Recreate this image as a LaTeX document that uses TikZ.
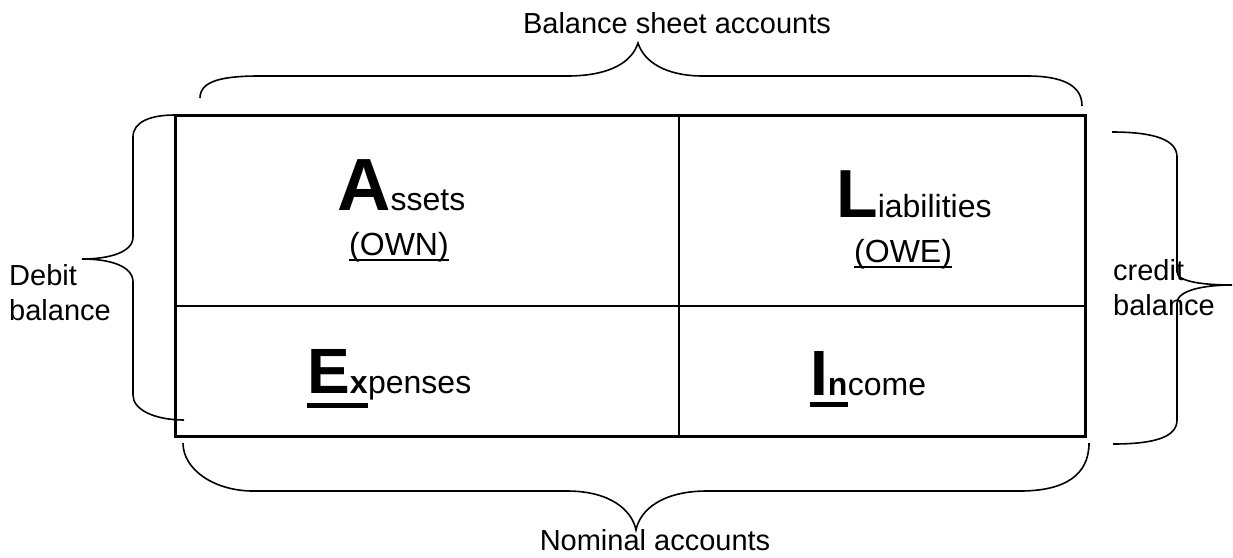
\documentclass[tikz,border=0pt]{standalone}
\usepackage{fontspec}
\setmainfont{Liberation Sans}
\usetikzlibrary{positioning}

\tikzset{
  lbl/.style={inner sep=0pt, font=\fontsize{29}{35}\selectfont},
  cell/.style={inner sep=0pt, font=\fontsize{32}{38}\selectfont},
  brace/.style={line width=1.6pt},
}
\newcommand{\bigletter}[2]{{\fontsize{#1}{#1}\selectfont\bfseries #2}}

\begin{document}
\begin{tikzpicture}[x=1pt,y=-1pt]
  \useasboundingbox (0,0) rectangle (1233,557);
  % the four accounts
  \draw[line width=2pt] (679,115) -- (679,436);
  \draw[line width=2pt] (175,306) -- (1085,306);
  \draw[line width=3pt] (175,115) rectangle (1085,436);

  \node[cell, anchor=base west] (assets) at (337,210) {\bigletter{74}{A}ssets};
  \node[cell, anchor=base west] (own) at (349,255) {(OWN)};
  \node[cell, anchor=base west] (liab) at (836,217) {\bigletter{68}{L}iabilities};
  \node[cell, anchor=base west] (owe) at (854,262) {(OWE)};
  \node[cell, anchor=base west] (expE) at (307,393) {\bigletter{64}{E}\textbf{x}};
  \node[cell, anchor=base west] (exp) at (expE.base east) {penses};
  \node[cell, anchor=base west] (incI) at (810,395) {\bigletter{64}{I}\textbf{n}};
  \node[cell, anchor=base west] (inc) at (incI.base east) {come};

  \draw[line width=2pt] ([yshift=-5pt]own.base west) -- ([yshift=-5pt]own.base east);
  \draw[line width=2pt] ([yshift=-5pt]owe.base west) -- ([yshift=-5pt]owe.base east);
  \draw[line width=5pt] ([yshift=-12pt]expE.base west) -- ([yshift=-12pt]expE.base east);
  \draw[line width=5pt] ([yshift=-9pt]incI.base west) -- ([yshift=-9pt]incI.base east);

  % labels
  \node[lbl, anchor=base] (bsa) at (677,33) {Balance sheet accounts};
  \node[lbl, anchor=base] (nom) at (655,550) {Nominal accounts};
  \node[lbl, anchor=north west, align=left] (debit) at (9,264) {Debit\\balance};
  \node[lbl, anchor=north west, align=left] (credit) at (1113,259) {credit\\balance};

  % braces
  \draw[brace] (200,98) .. controls (200,80) and (225,76) .. (260,76) -- (567,76)
    .. controls (610,76) and (632,62) .. (638,43)
    .. controls (644,62) and (666,76) .. (703,76) -- (1027,76)
    .. controls (1062,76) and (1082,85) .. (1082,106);
  \draw[brace] (183,443) .. controls (183,470) and (215,491) .. (253,491) -- (567,491)
    .. controls (610,491) and (632,510) .. (636,530)
    .. controls (640,510) and (662,491) .. (707,491) -- (1020,491)
    .. controls (1065,491) and (1089,475) .. (1089,443);
  \draw[brace] (175,115) .. controls (150,115) and (133,122) .. (133,137) -- (133,237)
    .. controls (133,252) and (110,259) .. (82,259)
    .. controls (110,259) and (133,266) .. (133,282) -- (133,395)
    .. controls (133,410) and (155,420) .. (184,420);
  \draw[brace] (1112,132) .. controls (1155,132) and (1177,140) .. (1177,157) -- (1177,272)
    .. controls (1177,282) and (1205,285) .. (1232,285)
    .. controls (1205,285) and (1177,290) .. (1177,303) -- (1177,420)
    .. controls (1177,437) and (1155,444) .. (1113,444);
\end{tikzpicture}
\end{document}
